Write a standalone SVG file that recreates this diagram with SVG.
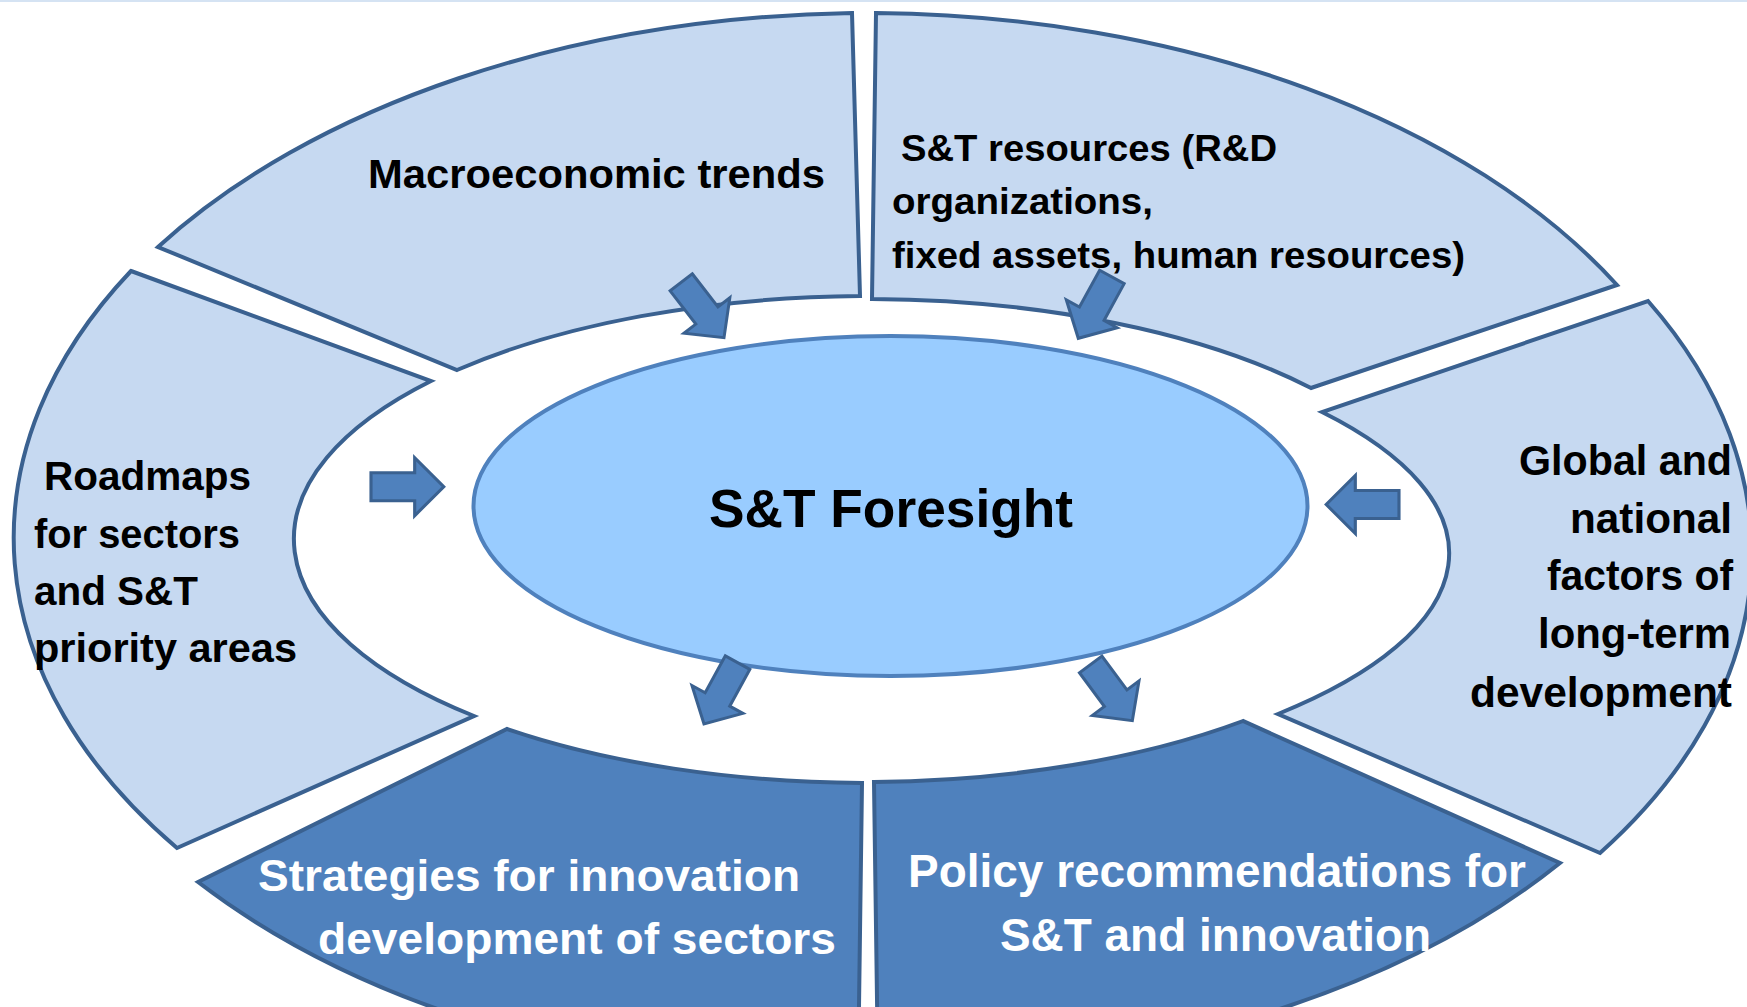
<svg xmlns="http://www.w3.org/2000/svg" xmlns:xlink="http://www.w3.org/1999/xlink" width="1747" height="1007" viewBox="0 0 1747 1007">
<style>
.seg{fill:#C6D9F1;stroke:#3A6190;stroke-width:4;stroke-linejoin:miter}
.dseg{fill:#4F81BD;stroke:#3A6190;stroke-width:4;stroke-linejoin:miter}
.core{fill:#99CCFF;stroke:#4F81BD;stroke-width:4}
.arr{fill:#4F81BD;stroke:#3A6190;stroke-width:3;stroke-linejoin:miter}
.t{font-family:"Liberation Sans",Arial,sans-serif;font-weight:bold;fill:#000}
.w{font-family:"Liberation Sans",Arial,sans-serif;font-weight:bold;fill:#FFFFFF}
</style>
<defs>
<path id="arrow" d="M0,-14 L42,-14 L42,-29 L70,0 L42,29 L42,14 L0,14 Z"/>
</defs>
<rect x="0" y="0" width="1747" height="1007" fill="#FFFFFF"/>
<rect x="0" y="0" width="1747" height="2" fill="#D5E3F3"/>

<g id="macro">
<path class="seg" d="M158,247 A863 530 0 0 1 852,13 L860,296 A577 244 0 0 0 457,370 Z"/>
<text class="t" x="368" y="188" font-size="41" textLength="457" lengthAdjust="spacingAndGlyphs">Macroeconomic trends</text>
</g>

<g id="resources">
<path class="seg" d="M876,13 A863 530 0 0 1 1617,285 L1311,388 A577 244 0 0 0 872,299 Z"/>
<text class="t" font-size="37" lengthAdjust="spacingAndGlyphs">
<tspan x="901" y="161" textLength="376" lengthAdjust="spacingAndGlyphs">S&amp;T resources (R&amp;D</tspan>
<tspan x="892" y="214" textLength="261" lengthAdjust="spacingAndGlyphs">organizations,</tspan>
<tspan x="892" y="268" textLength="573" lengthAdjust="spacingAndGlyphs">fixed assets, human resources)</tspan>
</text>
</g>

<g id="global">
<path class="seg" d="M1648,301 A863 530 0 0 1 1600,853 L1278,714 A690 244 0 0 0 1322,412 Z"/>
<text class="t" font-size="42">
<tspan x="1519" y="475" textLength="213" lengthAdjust="spacingAndGlyphs">Global and</tspan>
<tspan x="1570" y="533" textLength="162" lengthAdjust="spacingAndGlyphs">national</tspan>
<tspan x="1547" y="590" textLength="186" lengthAdjust="spacingAndGlyphs">factors of</tspan>
<tspan x="1538" y="648" textLength="193" lengthAdjust="spacingAndGlyphs">long-term</tspan>
<tspan x="1470" y="707" textLength="262" lengthAdjust="spacingAndGlyphs">development</tspan>
</text>
</g>

<g id="roadmaps">
<path class="seg" d="M131,271 L431,381 A577 244 0 0 0 474,716 L177,848 A863 530 0 0 1 131,271 Z"/>
<text class="t" font-size="40">
<tspan x="44" y="490" textLength="207" lengthAdjust="spacingAndGlyphs">Roadmaps</tspan>
<tspan x="34" y="548" textLength="206" lengthAdjust="spacingAndGlyphs">for sectors</tspan>
<tspan x="34" y="605" textLength="164" lengthAdjust="spacingAndGlyphs">and S&amp;T</tspan>
<tspan x="34" y="662" textLength="263" lengthAdjust="spacingAndGlyphs">priority areas</tspan>
</text>
</g>

<g id="strategies">
<path class="dseg" d="M198,882 L507,729 A577 244 0 0 0 862,783 L858,1081 A863 530 0 0 1 198,882 Z"/>
<text class="w" font-size="45">
<tspan x="258" y="891" textLength="542" lengthAdjust="spacingAndGlyphs">Strategies for innovation</tspan>
<tspan x="318" y="954" textLength="518" lengthAdjust="spacingAndGlyphs">development of sectors</tspan>
</text>
</g>

<g id="policy">
<path class="dseg" d="M874,782 A577 244 0 0 0 1243,721 L1560,863 A863 530 0 0 1 878,1071 Z"/>
<text class="w" font-size="46">
<tspan x="908" y="887" textLength="618" lengthAdjust="spacingAndGlyphs">Policy recommendations for</tspan>
<tspan x="1000" y="951" textLength="431" lengthAdjust="spacingAndGlyphs">S&amp;T and innovation</tspan>
</text>
</g>

<g id="foresight">
<ellipse class="core" cx="890.5" cy="506" rx="417" ry="170"/>
<text class="t" x="709" y="527" font-size="53" textLength="364" lengthAdjust="spacingAndGlyphs">S&amp;T Foresight</text>
</g>

<g id="connectors">
<use xlink:href="#arrow" class="arr" transform="translate(681.2,282.3) rotate(52.3)"/>
<use xlink:href="#arrow" class="arr" transform="translate(1111.9,276.9) rotate(118.7)"/>
<use xlink:href="#arrow" class="arr" transform="translate(371,486.7) scale(1.04,1)"/>
<use xlink:href="#arrow" class="arr" transform="translate(1399,504.5) rotate(180) scale(1.04,1)"/>
<use xlink:href="#arrow" class="arr" transform="translate(737.6,662.6) rotate(118.7)"/>
<use xlink:href="#arrow" class="arr" transform="translate(1090.7,664.4) rotate(53.5)"/>
</g>
</svg>
